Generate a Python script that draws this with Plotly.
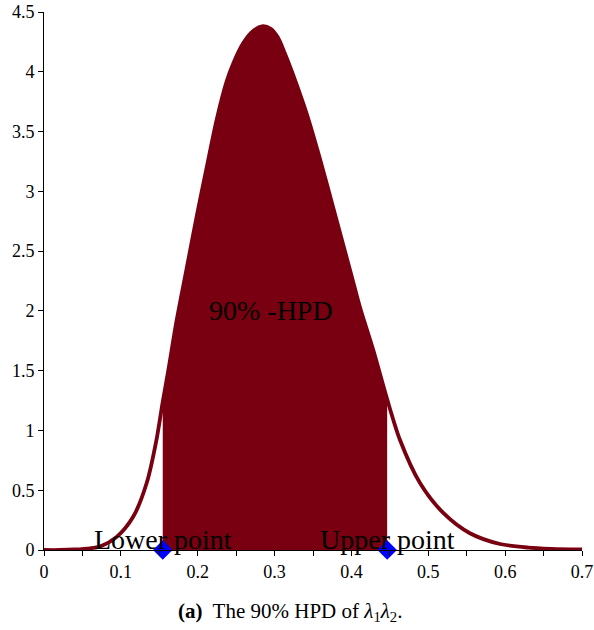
import plotly.graph_objects as go

# density curve
curve_x = [0.0, 0.02, 0.04, 0.06, 0.0729, 0.0946, 0.1162, 0.1336, 0.1466, 0.1545,
           0.1617, 0.1726, 0.1846, 0.1987, 0.2117, 0.2247, 0.2377, 0.2463, 0.2593,
           0.2700, 0.2836, 0.2950, 0.3040, 0.3130, 0.3244, 0.3417, 0.3591, 0.3764,
           0.4003, 0.4111, 0.4285, 0.4465, 0.4632, 0.4892, 0.5195, 0.5542, 0.5933,
           0.63, 0.66, 0.7]
curve_y = [0.0, 0.0, 0.004, 0.014, 0.03, 0.11, 0.28, 0.56, 0.93, 1.24,
           1.50, 1.92, 2.32, 2.79, 3.20, 3.60, 3.92, 4.07, 4.24,
           4.33, 4.38, 4.36, 4.29, 4.16, 3.97, 3.65, 3.27, 2.86,
           2.29, 2.03, 1.67, 1.26, 0.92, 0.56, 0.31, 0.14, 0.05,
           0.02, 0.01, 0.005]

hpd_lower = 0.1545
hpd_upper = 0.4465
point_x = [hpd_lower, hpd_upper]
point_y = [0, 0]
labels = ["Lower point", "Upper point"]
hpd_label = "90% -HPD"
caption = "<b>(a)</b>  The 90% HPD of <i>λ</i><sub>1</sub><i>λ</i><sub>2</sub>."

dark_red = "#780010"
serif = "Liberation Serif"

fill_x = [x for x in curve_x if hpd_lower <= x <= hpd_upper]
fill_y = [y for x, y in zip(curve_x, curve_y) if hpd_lower <= x <= hpd_upper]

fig = go.Figure()
fig.add_trace(go.Scatter(x=fill_x, y=fill_y, mode="lines", fill="tozeroy",
                         fillcolor=dark_red,
                         line=dict(color=dark_red, width=0, shape="spline", smoothing=0.8),
                         hoverinfo="skip"))
fig.add_trace(go.Scatter(x=curve_x, y=curve_y, mode="lines",
                         line=dict(color=dark_red, width=3.8, shape="spline", smoothing=0.8)))
fig.add_trace(go.Scatter(x=point_x, y=point_y, mode="markers",
                         marker=dict(symbol="diamond", size=15, color="#0000ff"),
                         cliponaxis=False))

for px, lab in zip(point_x, labels):
    fig.add_annotation(x=px, y=0.09, text=lab, showarrow=False,
                       xanchor="center", yanchor="middle",
                       font=dict(family=serif, size=28, color="black"))
fig.add_annotation(x=0.295, y=2.0, text=hpd_label, showarrow=False,
                   xanchor="center", yanchor="middle",
                   font=dict(family=serif, size=28, color="black"))
fig.add_annotation(xref="paper", yref="paper", x=0.457, y=-0.115, text=caption,
                   showarrow=False, xanchor="center", yanchor="middle",
                   font=dict(family=serif, size=21, color="black"))

fig.update_layout(
    width=594, height=630, showlegend=False,
    margin=dict(l=44, r=12, t=12, b=80, autoexpand=False),
    paper_bgcolor="white", plot_bgcolor="white",
    font=dict(family=serif, size=18, color="black"),
)
fig.update_xaxes(range=[0, 0.7], dtick=0.1, tick0=0, automargin=False,
                 showgrid=False, zeroline=False, showline=True, linecolor="black",
                 linewidth=1, ticks="outside", ticklen=5, tickcolor="black",
                 tickfont_family=serif, tickfont_size=18, tickfont_color="black",
                 minor=dict(dtick=0.05, tick0=0, ticks="outside", ticklen=5,
                            tickcolor="black", showgrid=False))
fig.update_yaxes(range=[0, 4.5], dtick=0.5, tick0=0, automargin=False,
                 showgrid=False, zeroline=False, showline=True, linecolor="black",
                 linewidth=1, ticks="outside", ticklen=5, tickcolor="black",
                 tickfont_family=serif, tickfont_size=18, tickfont_color="black")

fig.write_html("out.html")
